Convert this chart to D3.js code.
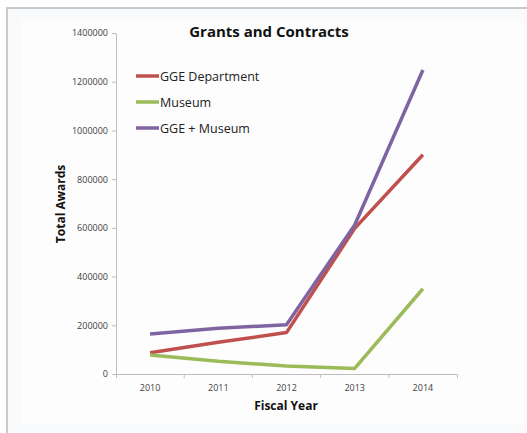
<!DOCTYPE html>
<html>
<head>
<meta charset="utf-8">
<script src="https://cdn.jsdelivr.net/npm/d3@7"></script>
<style>
  html, body { margin: 0; padding: 0; background: #ffffff; }
  svg { display: block; }
  text { font-family: "Open Sans", "DejaVu Sans", sans-serif; }
</style>
</head>
<body>
<svg id="chart" width="527" height="433"></svg>
<script>
// Fiscal years on the horizontal axis
const years = ["2010", "2011", "2012", "2013", "2014"];

// Total awards per fiscal year (USD)
const ggeDepartment = [87000, 130000, 170000, 598000, 900000];
const museum = [78000, 52000, 33000, 23000, 350000];
const ggePlusMuseum = [164000, 188000, 202000, 612000, 1248000];

// Vertical axis ticks
const yTicks = [0, 200000, 400000, 600000, 800000, 1000000, 1200000, 1400000];

const seriesNames = ["GGE Department", "Museum", "GGE + Museum"];
const seriesValues = [ggeDepartment, museum, ggePlusMuseum];
const seriesColors = ["#c0504d", "#9bbb59", "#8064a2"];

const svg = d3.select("#chart");
const W = 527, H = 433;

// Panel background and frame
svg.append("rect").attr("x", 7).attr("y", 8).attr("width", W - 7).attr("height", H - 8)
  .attr("fill", "#f8fafc");
svg.append("rect").attr("x", 21).attr("y", 20).attr("width", 502).attr("height", 404)
  .attr("fill", "#fdfdfd");
svg.append("line").attr("x1", 6).attr("x2", W).attr("y1", 8).attr("y2", 8)
  .attr("stroke", "#c9c9c9").attr("stroke-width", 2);
svg.append("line").attr("x1", 7).attr("x2", 7).attr("y1", 7).attr("y2", H)
  .attr("stroke", "#c9c9c9").attr("stroke-width", 2);

// Scales
const x = d3.scaleBand().domain(years).range([116, 457]).padding(0);
const y = d3.scaleLinear().domain([0, 1400000]).range([374, 33]);
const cx = d => x(d) + x.bandwidth() / 2;

// Y axis
const yAxis = svg.append("g").attr("transform", "translate(116,0)")
  .call(d3.axisLeft(y).tickValues(yTicks).tickFormat(d3.format("d"))
    .tickSize(4).tickSizeOuter(0).tickPadding(4));
yAxis.selectAll("path, line").attr("stroke", "#bdbdbd");
yAxis.selectAll("text").attr("font-size", 9).attr("fill", "#404040")
  .attr("font-family", "'Open Sans', sans-serif");

// X axis
const xAxis = svg.append("g").attr("transform", "translate(0,374)")
  .call(d3.axisBottom(x).tickSize(0).tickSizeOuter(4).tickPadding(11));
xAxis.selectAll("path").attr("stroke", "#bdbdbd");
xAxis.selectAll("text").attr("font-size", 9).attr("fill", "#404040")
  .attr("font-family", "'Open Sans', sans-serif");
// tick marks between categories
xAxis.selectAll(".boundary").data(years.slice(1)).enter().append("line")
  .attr("class", "boundary")
  .attr("x1", d => x(d)).attr("x2", d => x(d))
  .attr("y1", 0).attr("y2", 4)
  .attr("stroke", "#bdbdbd");

// Series lines
const line = d3.line().x((v, i) => cx(years[i])).y(v => y(v));
seriesValues.forEach((vals, i) => {
  svg.append("path").datum(vals)
    .attr("d", line)
    .attr("fill", "none")
    .attr("stroke", seriesColors[i])
    .attr("stroke-width", 3.5)
    .attr("stroke-linejoin", "round")
    .attr("stroke-linecap", "butt");
});

// Title
svg.append("text").attr("x", 269).attr("y", 36.5).attr("text-anchor", "middle")
  .attr("font-size", 15).attr("font-weight", "bold").attr("fill", "#111")
  .text("Grants and Contracts");

// Axis titles
svg.append("text").attr("x", 286).attr("y", 410).attr("text-anchor", "middle")
  .attr("font-size", 12).attr("font-weight", "bold").attr("fill", "#111")
  .text("Fiscal Year");
svg.append("text").attr("transform", "translate(65,204) rotate(-90)")
  .attr("text-anchor", "middle")
  .attr("font-size", 12).attr("font-weight", "bold").attr("fill", "#111")
  .text("Total Awards");

// Legend
const legend = svg.append("g");
seriesNames.forEach((name, i) => {
  const ly = 76 + i * 26;
  legend.append("line").attr("x1", 136).attr("x2", 159).attr("y1", ly).attr("y2", ly)
    .attr("stroke", seriesColors[i]).attr("stroke-width", 3.5);
  legend.append("text").attr("x", 160).attr("y", ly + 4.5)
    .attr("font-size", 12.5).attr("fill", "#222").text(name);
});
</script>
</body>
</html>
